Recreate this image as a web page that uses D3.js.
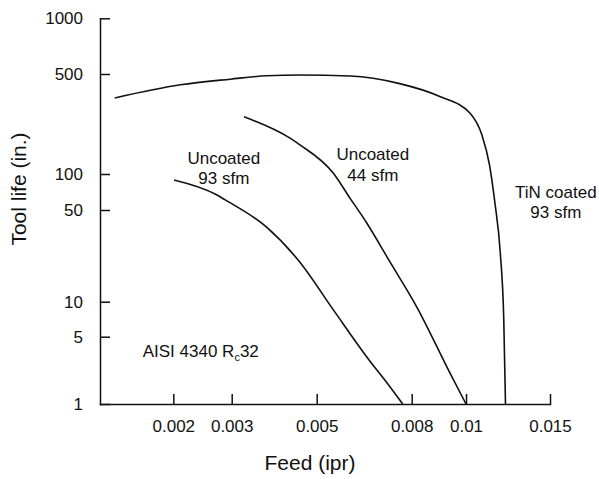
<!DOCTYPE html>
<html>
<head>
<meta charset="utf-8">
<title></title>
<style>
 body { margin: 0; background: #fff; }
 svg { font-family: "Liberation Sans", Arial, sans-serif; }
 .curves path { fill: none; stroke: #111; stroke-width: 1.6px; }
 .axis path, .axis line { stroke: #111; stroke-width: 1.5px; }
 .axis text { font-size: 17px; fill: #111; font-family: "Liberation Sans", Arial, sans-serif; }
 .title, .note { fill: #111; }
</style>
</head>
<body>
<svg width="599" height="479"></svg>
<script src="https://cdn.jsdelivr.net/npm/d3@7/dist/d3.min.js"></script>
<script>

 // tick values (the printed axes are not evenly spaced, so each tick is pinned)
 var feedTicks = [0.002, 0.003, 0.005, 0.008, 0.01, 0.015];
 var lifeTicks = [1, 5, 10, 50, 100, 500, 1000];

 // curves: [feed (ipr), tool life (in.)]
 var uncoated93 = [[0.00201, 89], [0.0027, 67], [0.00286, 61], [0.0037, 37], [0.00452, 20],
                   [0.00543, 8.5], [0.0064, 3.1], [0.00719, 1.5], [0.00765, 1]];
 var uncoated44 = [[0.00323, 251], [0.00426, 178], [0.00452, 160], [0.00542, 102], [0.0059, 62.5],
                   [0.0064, 40], [0.00719, 20], [0.00817, 9], [0.00936, 2.1], [0.01, 1]];
 var tinCoated93 = [[0.00133, 340], [0.0021, 420], [0.00297, 460], [0.0037, 486], [0.00452, 492],
                    [0.0059, 484], [0.0075, 430], [0.009, 347], [0.0102, 266], [0.0108, 187],
                    [0.0112, 116], [0.0115, 57], [0.0118, 23.5], [0.012, 7], [0.0121, 1]];

 var svg = d3.select('svg');

 // piecewise log scales, one segment per printed tick
 var x = d3.scaleLog()
           .domain([0.0012].concat(feedTicks))
           .range([100, 173.3, 231.7, 316.7, 411.7, 466, 550]);
 var y = d3.scaleLog()
           .domain(lifeTicks)
           .range([404, 336.7, 301.7, 210, 174, 74, 18.3]);

 // axes, ticks pointing inward
 svg.append('g')
    .attr('class', 'axis')
    .attr('transform', 'translate(0,404)')
    .call(d3.axisBottom(x).tickValues(feedTicks).tickSizeInner(-10).tickSizeOuter(0)
            .tickPadding(16).tickFormat(function(d) { return String(d); }));

 svg.append('g')
    .attr('class', 'axis')
    .attr('transform', 'translate(100,0)')
    .call(d3.axisLeft(y).tickValues(lifeTicks).tickSizeInner(-10).tickSizeOuter(0)
            .tickPadding(17).tickFormat(function(d) { return String(d); }));

 svg.selectAll('.axis .domain').attr('stroke-linecap', 'square');

 // curves
 var line = d3.line()
              .x(function(d) { return x(d[0]); })
              .y(function(d) { return y(d[1]); })
              .curve(d3.curveMonotoneX);

 svg.append('g')
    .attr('class', 'curves')
    .selectAll('path')
    .data([uncoated93, uncoated44, tinCoated93])
    .enter()
    .append('path')
    .attr('d', line);

 // axis titles
 svg.append('text')
    .attr('class', 'title')
    .attr('x', 310)
    .attr('y', 470)
    .attr('text-anchor', 'middle')
    .style('font-size', '21px')
    .text('Feed (ipr)');

 svg.append('text')
    .attr('class', 'title')
    .attr('transform', 'translate(26,189) rotate(-90)')
    .attr('text-anchor', 'middle')
    .style('font-size', '21px')
    .text('Tool life (in.)');

 // curve labels
 var notes = [
     { lines: ['Uncoated', '93 sfm'], at: [0.00284, 117.5] },
     { lines: ['Uncoated', '44 sfm'], at: [0.0066, 125.2] },
     { lines: ['TiN coated', '93 sfm'], at: [0.01543, 63.6] }
 ];

 notes.forEach(function(n) {
     var t = svg.append('text')
                .attr('class', 'note')
                .attr('text-anchor', 'middle')
                .style('font-size', '17px');
     n.lines.forEach(function(s, i) {
         t.append('tspan')
          .attr('x', x(n.at[0]))
          .attr('y', y(n.at[1]) + i * 20.5)
          .text(s);
     });
 });

 var mat = svg.append('text')
              .attr('class', 'note')
              .attr('x', x(0.001616))
              .attr('y', y(3.08))
              .style('font-size', '17px');
 mat.append('tspan').text('AISI 4340 R');
 mat.append('tspan').attr('dy', 4).style('font-size', '11px').text('c');
 mat.append('tspan').attr('dy', -4).text('32');

</script>
</body>
</html>
